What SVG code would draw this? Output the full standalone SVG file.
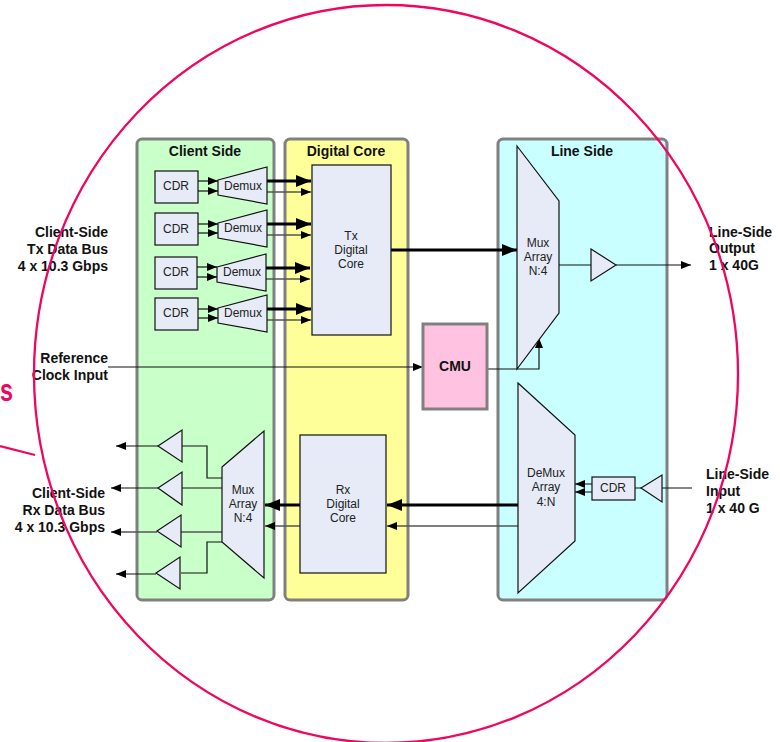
<svg xmlns="http://www.w3.org/2000/svg" width="780" height="742" viewBox="0 0 780 742">
<style>
text{font-family:"Liberation Sans",Arial,sans-serif;fill:#111}
.b{font-weight:bold;font-size:14px}
.h{font-weight:bold;font-size:14px;text-anchor:middle}
.n{font-size:12px;text-anchor:middle;fill:#222}
.p{stroke:#808080;stroke-width:3}
.s{fill:#e6ebf7;stroke:#111;stroke-width:1.2}
.l{fill:none;stroke:#111;stroke-width:1.2}
.g{fill:none;stroke:#555;stroke-width:1.5}
.t{fill:none;stroke:#000;stroke-width:3}
.pk{fill:none;stroke:#f0055f;stroke-width:2.3}
</style>
<defs>
<marker id="a" markerUnits="userSpaceOnUse" markerWidth="11" markerHeight="8" refX="10" refY="4" orient="auto"><path d="M0 0L10 4L0 8Z" fill="#000"/></marker>
<marker id="A" markerUnits="userSpaceOnUse" markerWidth="15" markerHeight="12" refX="15" refY="6" orient="auto"><path d="M0 0L15 6L0 12Z" fill="#000"/></marker>
</defs>
<g id="panels">
<rect id="client-side" class="p" x="137" y="139" width="137" height="461" rx="5" fill="#c9ffc9"/>
<rect id="digital-core" class="p" x="285" y="139" width="123" height="461" rx="5" fill="#ffff99"/>
<rect id="line-side" class="p" x="498" y="139" width="169" height="461" rx="5" fill="#c9ffff"/>
<text class="h" x="205" y="156">Client Side</text>
<text class="h" x="346" y="156">Digital Core</text>
<text class="h" x="582" y="156">Line Side</text>
</g>
<g id="connectors">
<path class="l" d="M197 181H218" marker-end="url(#a)"/><path class="l" d="M197 191H218" marker-end="url(#a)"/>
<path class="t" d="M267 181H311" marker-end="url(#A)"/><path class="g" d="M267 192H311" marker-end="url(#a)"/>
<path class="l" d="M197 224H218" marker-end="url(#a)"/><path class="l" d="M197 233H218" marker-end="url(#a)"/>
<path class="t" d="M267 224H311" marker-end="url(#A)"/><path class="g" d="M267 235H311" marker-end="url(#a)"/>
<path class="l" d="M197 267H217" marker-end="url(#a)"/><path class="l" d="M197 277H217" marker-end="url(#a)"/>
<path class="t" d="M266 268H310" marker-end="url(#A)"/><path class="g" d="M266 279H310" marker-end="url(#a)"/>
<path class="l" d="M197 309H218" marker-end="url(#a)"/><path class="l" d="M197 318H218" marker-end="url(#a)"/>
<path class="t" d="M267 309H311" marker-end="url(#A)"/><path class="g" d="M267 320H311" marker-end="url(#a)"/>
<path class="t" d="M391 250H517" marker-end="url(#A)"/>
<path class="l" d="M559 265H591M616 265H691" marker-end="url(#a)"/>
<path class="l" d="M108 367H423" marker-end="url(#a)"/>
<path class="l" d="M487 369H539V338" marker-end="url(#a)"/>
<path class="t" d="M518 505H387" marker-end="url(#A)"/><path class="g" d="M518 526H387" marker-end="url(#a)"/>
<path class="t" d="M300 505H265" marker-end="url(#A)"/><path class="g" d="M300 526H265" marker-end="url(#a)"/>
<path class="l" d="M222 478H207V446H182"/>
<path class="l" d="M222 488H182"/>
<path class="g" d="M222 532H181"/>
<path class="l" d="M222 542H207V573H181"/>
<path class="l" d="M158 446H116" marker-end="url(#a)"/>
<path class="l" d="M158 488H111" marker-end="url(#a)"/>
<path class="g" d="M157 532H111" marker-end="url(#a)"/>
<path class="l" d="M156 574H116" marker-end="url(#a)"/>
<path class="g" d="M592 484H575" marker-end="url(#a)"/><path class="g" d="M592 492H575" marker-end="url(#a)"/>
<path class="l" d="M635 488H641M662 488H692"/>
</g>
<g id="cdr-1"><rect class="s" x="155" y="171" width="43" height="32"/><text class="n" x="176" y="190">CDR</text></g>
<g id="demux-1"><path class="s" d="M218 180L267 167V204L218 195Z"/><text class="n" x="243" y="190">Demux</text></g>
<g id="cdr-2"><rect class="s" x="155" y="213" width="43" height="32"/><text class="n" x="176" y="233">CDR</text></g>
<g id="demux-2"><path class="s" d="M218 223L267 210V247L218 238Z"/><text class="n" x="243" y="232">Demux</text></g>
<g id="cdr-3"><rect class="s" x="155" y="257" width="42" height="32"/><text class="n" x="176" y="276">CDR</text></g>
<g id="demux-3"><path class="s" d="M217 267L266 254V291L217 282Z"/><text class="n" x="242" y="276">Demux</text></g>
<g id="cdr-4"><rect class="s" x="155" y="298" width="43" height="32"/><text class="n" x="176" y="317">CDR</text></g>
<g id="demux-4"><path class="s" d="M218 308L267 295V332L218 323Z"/><text class="n" x="243" y="317">Demux</text></g>
<g id="tx-core"><rect class="s" x="312" y="165" width="79" height="170"/><text class="n"><tspan x="351" y="240">Tx</tspan><tspan x="351" y="254">Digital</tspan><tspan x="351" y="268">Core</tspan></text></g>
<g id="rx-core"><rect class="s" x="300" y="435" width="86" height="138"/><text class="n"><tspan x="343" y="494">Rx</tspan><tspan x="343" y="508">Digital</tspan><tspan x="343" y="522">Core</tspan></text></g>
<g id="mux-tx"><path class="s" d="M517 146L559 201V313L517 369Z"/><text class="n"><tspan x="538" y="247">Mux</tspan><tspan x="538" y="261">Array</tspan><tspan x="538" y="275">N:4</tspan></text></g>
<g id="demux-rx"><path class="s" d="M518 383L575 435V541L518 593Z"/><text class="n"><tspan x="546" y="477">DeMux</tspan><tspan x="546" y="491">Array</tspan><tspan x="546" y="506">4:N</tspan></text></g>
<g id="mux-rx"><path class="s" d="M222 467L264 431V578L222 542Z"/><text class="n"><tspan x="243" y="494">Mux</tspan><tspan x="243" y="508">Array</tspan><tspan x="243" y="522">N:4</tspan></text></g>
<g id="cmu"><rect x="423" y="324" width="64" height="85" fill="#ffc2e0" stroke="#808080" stroke-width="3"/><text class="h" x="455" y="371">CMU</text></g>
<g id="cdr-line"><rect class="s" x="592" y="477" width="43" height="23"/><text class="n" x="613" y="492">CDR</text></g>
<g id="buf-line-out"><path class="s" d="M591 249L616 265L591 281Z"/></g>
<g id="buf-line-in"><path class="s" d="M641 488L662 475V502Z"/></g>
<g id="buf-1"><path class="s" d="M158 446L182 430V462Z"/></g>
<g id="buf-2"><path class="s" d="M158 488L182 472V505Z"/></g>
<g id="buf-3"><path class="s" d="M157 531L181 515V547Z"/></g>
<g id="buf-4"><path class="s" d="M156 573L180 557V589Z"/></g>
<g id="labels">
<text class="b" text-anchor="end"><tspan x="108" y="237">Client-Side</tspan><tspan x="108" y="254">Tx Data Bus</tspan><tspan x="108" y="271">4 x 10.3 Gbps</tspan></text>
<text class="b" text-anchor="end"><tspan x="108" y="363">Reference</tspan><tspan x="108" y="380">Clock Input</tspan></text>
<text class="b" text-anchor="end"><tspan x="105" y="498">Client-Side</tspan><tspan x="105" y="515">Rx Data Bus</tspan><tspan x="105" y="532">4 x 10.3 Gbps</tspan></text>
<text class="b"><tspan x="709" y="237">Line-Side</tspan><tspan x="709" y="253">Output</tspan><tspan x="709" y="270">1 x 40G</tspan></text>
<text class="b"><tspan x="706" y="479">Line-Side</tspan><tspan x="706" y="496">Input</tspan><tspan x="706" y="513">1 x 40 G</tspan></text>
</g>
<g id="annotation">
<ellipse class="pk" cx="386" cy="374" rx="352" ry="369"/>
<path class="pk" d="M0 446L35 455"/>
<text x="0" y="401" textLength="13" lengthAdjust="spacingAndGlyphs" style="font-size:32px;font-weight:bold;fill:#f0055f">s</text>
</g>
</svg>
